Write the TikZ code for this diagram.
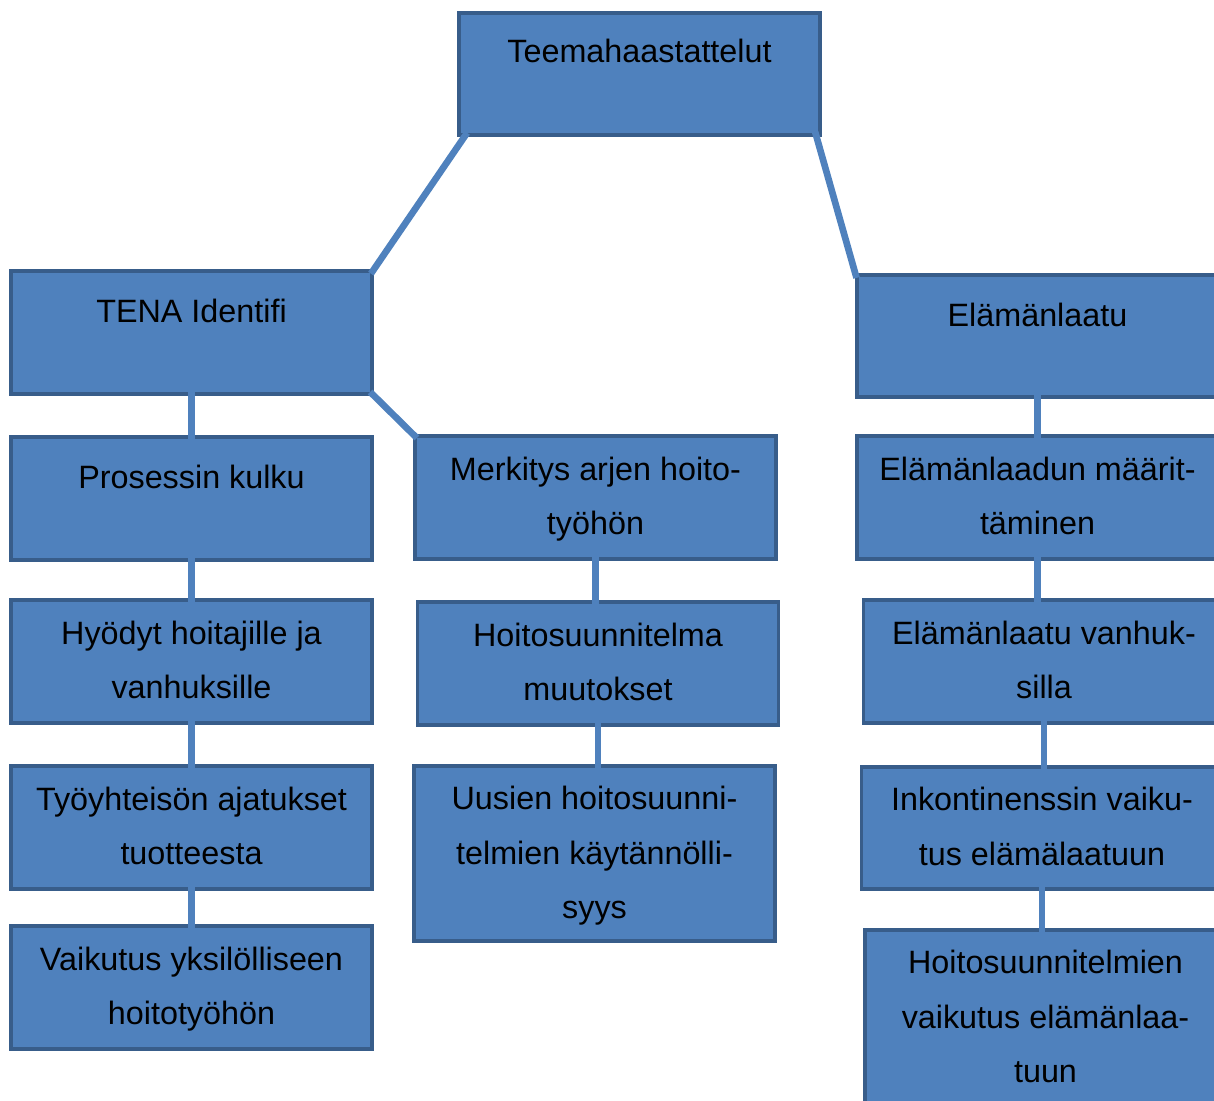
\documentclass[tikz,border=0pt]{standalone}
\usepackage{fontspec}
\setmainfont{Liberation Sans}
\usepackage{tikz}
\usetikzlibrary{positioning}

\definecolor{boxblue}{RGB}{79,129,189}
\definecolor{boxedge}{RGB}{56,93,138}

\begin{document}
\begin{tikzpicture}[
    x=0.02cm, y=-0.02cm,
    box/.style={rectangle, draw=boxedge, fill=boxblue, line width=2.2pt, minimum width=7.22cm, minimum height=2.45cm, inner sep=0pt},
    tallbox/.style={box, minimum height=3.5cm},
    txt/.style={align=center, inner sep=0pt, font=\fontsize{18.4}{31}\selectfont},
    link/.style={draw=boxblue, line width=3.8pt, shorten <=-3pt, shorten >=-3pt}
]
\useasboundingbox (0,0) rectangle (1214,1101);
\clip (0,0) rectangle (1214,1101);

% boxes
\node [box] (top) at (639.5,74) {};
\node [box] (tena) at (191.5,332.5) {};
\node [box] (elama) at (1037.5,336) {};
\node [box] (proses) at (191.5,498.5) {};
\node [box] (merk) at (595.5,497.5) {};
\node [box] (maarit) at (1037.5,497.5) {};
\node [box] (hyodyt) at (191.5,661.5) {};
\node [box] (muutos) at (598,663.5) {};
\node [box] (vanhuk) at (1044,661.5) {};
\node [box] (tyo) at (191.5,827.5) {};
\node [tallbox] (uusien) at (594.5,853.5) {};
\node [box] (inko) at (1042,828) {};
\node [box] (vaik) at (191.5,987.5) {};
\node [tallbox] (hsuun) at (1045.5,1017.5) {};

% connectors
\draw [link] ([xshift=4pt]top.south west) -- (tena.north east);
\draw [link] ([xshift=-3pt]top.south east) -- (elama.north west);
\draw [link] (tena.south east) -- (merk.north west);
\draw [link] (tena.south) -- (proses.north);
\draw [link] (proses.south) -- (hyodyt.north);
\draw [link] (hyodyt.south) -- (hyodyt.south |- tyo.north);
\draw [link] (tyo.south) -- (tyo.south |- vaik.north);
\draw [link] (merk.south) -- (merk.south |- muutos.north);
\draw [link] (muutos.south) -- (muutos.south |- uusien.north);
\draw [link] (elama.south) -- (maarit.north);
\draw [link] (maarit.south) -- (maarit.south |- vanhuk.north);
\draw [link] (vanhuk.south) -- (vanhuk.south |- inko.north);
\draw [link] (inko.south) -- (inko.south |- hsuun.north);

% texts
\node [txt, below=16pt of top.north] (topt) {Teemahaastattelut};
\node [txt, below=17pt of tena.north] (tenat) {TENA Identifi};
\node [txt, below=17pt of elama.north] (elamat) {Elämänlaatu};
\node [txt, below=17pt of proses.north] (prosest) {Prosessin kulku};
\node [txt, below=12.5pt of merk.north] (merkt) {Merkitys arjen hoito-\\työhön};
\node [txt, below=12.5pt of maarit.north] (maaritt) {Elämänlaadun määrit-\\täminen};
\node [txt, below=12.5pt of hyodyt.north] (hyodytt) {Hyödyt hoitajille ja\\vanhuksille};
\node [txt, below=12.5pt of muutos.north] (muutost) {Hoitosuunnitelma\\muutokset};
\node [txt, below=12.5pt of vanhuk.north] (vanhukt) {Elämänlaatu vanhuk-\\silla};
\node [txt, below=12.5pt of tyo.north] (tyot) {Työyhteisön ajatukset\\tuotteesta};
\node [txt, below=12.5pt of uusien.north] (uusient) {Uusien hoitosuunni-\\telmien käytännölli-\\syys};
\node [txt, below=12.5pt of inko.north] (inkot) {Inkontinenssin vaiku-\\tus elämälaatuun};
\node [txt, below=12.5pt of vaik.north] (vaikt) {Vaikutus yksilölliseen\\hoitotyöhön};
\node [txt, below=12.5pt of hsuun.north] (hsuunt) {Hoitosuunnitelmien\\vaikutus elämänlaa-\\tuun};

\end{tikzpicture}
\end{document}
